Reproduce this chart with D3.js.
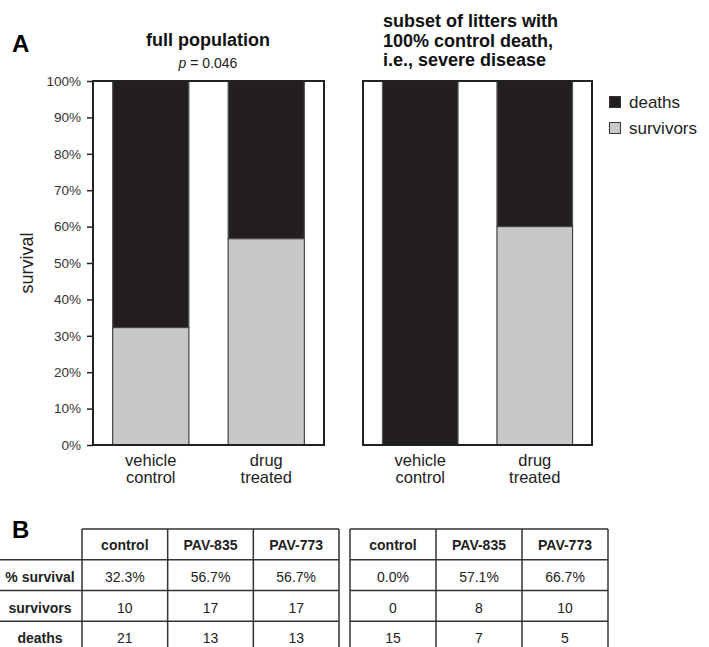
<!DOCTYPE html>
<html>
<head>
<meta charset="utf-8">
<script src="https://cdn.jsdelivr.net/npm/d3@7"></script>
<style>
  html, body { margin: 0; padding: 0; background: #fff; }
  svg { display: block; font-family: "Liberation Sans", Arial, Helvetica, sans-serif; }
</style>
</head>
<body>
<svg id="fig" width="709" height="647"></svg>
<script>
// ---- data ----
const groups = ["vehicle control", "drug treated"];
const compounds = ["control", "PAV-835", "PAV-773"];
const rowLabels = ["% survival", "survivors", "deaths"];

// full population, per compound
const fullSurvivors = [10, 17, 17];
const fullDeaths = [21, 13, 13];
const fullSurvivalText = ["32.3%", "56.7%", "56.7%"];

// litters with 100% control death (severe disease)
const severeSurvivors = [0, 8, 10];
const severeDeaths = [15, 7, 5];
const severeSurvivalText = ["0.0%", "57.1%", "66.7%"];

const yTicks = [0, 0.1, 0.2, 0.3, 0.4, 0.5, 0.6, 0.7, 0.8, 0.9, 1.0];
const legendItems = ["deaths", "survivors"];

// ---- styles ----
const DEATH = "#231f20";
const SURV = "#c8c8c8";
const INK = "#222";

const svg = d3.select("#fig");

// vehicle = control column; drug treated = both compounds pooled
function pooled(surv, dead) {
  const s = [surv[0], surv[1] + surv[2]];
  const d = [dead[0], dead[1] + dead[2]];
  return groups.map((g, i) => ({ group: g, survivors: s[i], deaths: d[i], frac: s[i] / (s[i] + d[i]) }));
}

const y = d3.scaleLinear().domain([0, 1]).range([445, 81]);

function panel(data, x0, x1, withAxis) {
  const g = svg.append("g");
  const x = d3.scaleBand().domain(groups).range([x0, x1]).paddingInner(0.34).paddingOuter(0.17);

  // death (top) segment
  g.selectAll("rect.death").data(data).join("rect")
    .attr("x", d => x(d.group)).attr("width", x.bandwidth())
    .attr("y", y(1)).attr("height", d => y(d.frac) - y(1))
    .attr("fill", DEATH).attr("stroke", "#555").attr("stroke-width", 1.2);
  // survivor (bottom) segment
  g.selectAll("rect.surv").data(data.filter(d => d.frac > 0)).join("rect")
    .attr("x", d => x(d.group)).attr("width", x.bandwidth())
    .attr("y", d => y(d.frac)).attr("height", d => y(0) - y(d.frac))
    .attr("fill", SURV).attr("stroke", "#444").attr("stroke-width", 1.2);

  // frame
  g.append("rect").attr("x", x0).attr("y", y(1)).attr("width", x1 - x0).attr("height", y(0) - y(1))
    .attr("fill", "none").attr("stroke", INK).attr("stroke-width", 2);

  // category labels (two lines)
  data.forEach(d => {
    const words = d.group.split(" ");
    const cx = x(d.group) + x.bandwidth() / 2;
    const t = g.append("text").attr("text-anchor", "middle").attr("font-size", 16.5).attr("fill", "#222")
      .attr("x", cx).attr("y", 466);
    words.forEach((w, i) => t.append("tspan").attr("x", cx).attr("dy", i ? 17 : 0).text(w));
  });

  if (withAxis) {
    const ax = g.append("g").attr("transform", `translate(${x0},0)`)
      .call(d3.axisLeft(y).tickValues(yTicks).tickFormat(d3.format(".0%")).tickSize(6).tickPadding(6));
    ax.select(".domain").remove();
    ax.selectAll("line").attr("stroke", INK).attr("stroke-width", 1.5);
    ax.selectAll("text").attr("font-size", 13.5).attr("fill", "#333").attr("font-family", "Liberation Sans, Arial, sans-serif");
  }
  return x;
}

panel(pooled(fullSurvivors, fullDeaths), 93, 324, true);
panel(pooled(severeSurvivors, severeDeaths), 363, 592, false);

// y axis title
svg.append("text").attr("transform", "translate(33,263) rotate(-90)")
  .attr("text-anchor", "middle").attr("font-size", 18).attr("fill", "#222").text("survival");

// panel letters and titles
svg.append("text").attr("x", 12).attr("y", 52).attr("font-size", 24).attr("font-weight", "bold").text("A");
svg.append("text").attr("x", 208).attr("y", 46).attr("text-anchor", "middle")
  .attr("font-size", 18).attr("font-weight", "bold").attr("fill", "#111").text("full population");
const pv = svg.append("text").attr("x", 208).attr("y", 68).attr("text-anchor", "middle").attr("font-size", 14).attr("fill", "#222");
pv.append("tspan").attr("font-style", "italic").text("p");
pv.append("tspan").text(" = 0.046");

const rt = svg.append("text").attr("x", 383).attr("y", 27).attr("font-size", 18).attr("font-weight", "bold").attr("fill", "#111");
["subset of litters with", "100% control death,", "i.e., severe disease"].forEach((l, i) =>
  rt.append("tspan").attr("x", 383).attr("dy", i ? 19.5 : 0).text(l));

// legend
const lg = svg.append("g");
legendItems.forEach((name, i) => {
  const cy = 102 + i * 26;
  lg.append("rect").attr("x", 609.5).attr("y", cy - 5.5).attr("width", 11).attr("height", 11)
    .attr("fill", i === 0 ? DEATH : SURV).attr("stroke", "#333").attr("stroke-width", 1);
  lg.append("text").attr("x", 629).attr("y", cy + 6).attr("font-size", 17).attr("fill", "#222").text(name);
});

// ---- panel B: tables ----
svg.append("text").attr("x", 12).attr("y", 538).attr("font-size", 24).attr("font-weight", "bold").text("B");

const rowY = d3.scaleBand().domain(["head"].concat(rowLabels)).range([529, 652]);

function table(x0, x1, survText, surv, dead, withLabels) {
  const g = svg.append("g");
  const cx = d3.scaleBand().domain(compounds).range([x0, x1]);
  const rows = [survText, surv.map(String), dead.map(String)];
  const left = withLabels ? 0 : x0;

  // header text
  compounds.forEach(c => g.append("text").attr("x", cx(c) + cx.bandwidth() / 2).attr("y", rowY("head") + 21)
    .attr("text-anchor", "middle").attr("font-size", 14).attr("font-weight", "bold").attr("fill", "#222").text(c));
  // cells
  rowLabels.forEach((r, ri) => {
    compounds.forEach((c, ci) => g.append("text").attr("x", cx(c) + cx.bandwidth() / 2).attr("y", rowY(r) + 22)
      .attr("text-anchor", "middle").attr("font-size", 14).attr("fill", "#222").text(rows[ri][ci]));
    if (withLabels) g.append("text").attr("x", 40).attr("y", rowY(r) + 22).attr("text-anchor", "middle")
      .attr("font-size", 14).attr("font-weight", "bold").attr("fill", "#222").text(r);
  });

  // grid lines
  const lineAttrs = sel => sel.attr("stroke", "#333").attr("stroke-width", 1.5);
  g.append("line").attr("x1", x0).attr("x2", x1).attr("y1", rowY("head")).attr("y2", rowY("head")).call(lineAttrs);
  rowLabels.forEach(r => g.append("line").attr("x1", left).attr("x2", x1).attr("y1", rowY(r)).attr("y2", rowY(r)).call(lineAttrs));
  compounds.forEach(c => g.append("line").attr("x1", cx(c)).attr("x2", cx(c)).attr("y1", rowY("head")).attr("y2", 652).call(lineAttrs));
  g.append("line").attr("x1", x1).attr("x2", x1).attr("y1", rowY("head")).attr("y2", 652).call(lineAttrs);
}

table(82, 339, fullSurvivalText, fullSurvivors, fullDeaths, true);
table(350, 608, severeSurvivalText, severeSurvivors, severeDeaths, false);
</script>
</body>
</html>
